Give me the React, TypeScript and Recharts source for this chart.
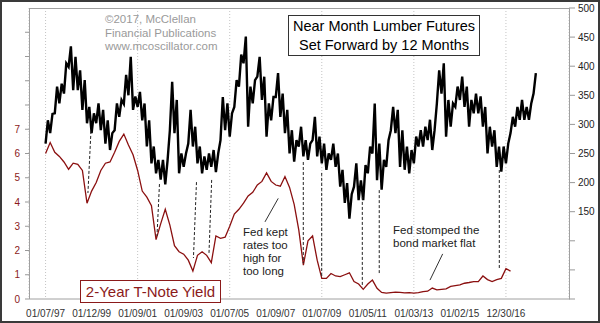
import {
  CartesianGrid,
  ComposedChart,
  Line,
  ReferenceLine,
  XAxis,
  YAxis,
} from "recharts";

// one sample every 50 trading days, starting 01/07/97
const STEP = 50;

const dateTicks = [0, 500, 1000, 1500, 2000, 2500, 3000, 3500, 4000, 4500, 5000];
const dateLabels = [
  "01/07/97",
  "01/12/99",
  "01/09/01",
  "01/09/03",
  "01/07/05",
  "01/09/07",
  "01/07/09",
  "01/05/11",
  "01/03/13",
  "01/02/15",
  "12/30/16",
];

// lumber futures (set forward 12 months), low / high of each sample window
const lumberLow = [
  267, 285, 319, 336, 353, 399, 359, 359, 325, 302,
  285, 302, 290, 267, 256, 290, 313, 335, 350, 325,
  330, 307, 262, 233, 216, 205, 197, 290, 285, 216,
  227, 267, 262, 233, 216, 222, 227, 218, 273, 290,
  279, 330, 365, 405, 296, 336, 382, 342, 279, 307,
  347, 313, 285, 250, 236, 262, 245, 239, 273, 245,
  233, 222, 239, 227, 193, 165, 138, 193, 170, 170,
  216, 250, 204, 188, 227, 290, 285, 227, 222, 216,
  233, 262, 262, 273, 256, 336, 353, 279, 296, 330,
  342, 330, 296, 319, 319, 296, 250, 262, 227, 219,
  233, 285, 296, 308, 308, 308, 353,
];
const lumberHigh = [
  307, 318, 365, 370, 405, 434, 416, 393, 376, 330,
  319, 336, 325, 307, 285, 336, 342, 385, 416, 348,
  356, 336, 307, 262, 239, 239, 238, 373, 342, 250,
  250, 325, 296, 262, 245, 250, 256, 250, 347, 336,
  319, 376, 420, 451, 365, 376, 416, 382, 336, 347,
  388, 353, 325, 290, 273, 296, 273, 267, 313, 279,
  267, 250, 267, 250, 222, 199, 180, 233, 204, 230,
  262, 336, 267, 239, 273, 330, 325, 290, 262, 256,
  279, 290, 296, 308, 290, 393, 405, 342, 336, 365,
  382, 365, 342, 353, 348, 330, 296, 290, 262, 262,
  267, 313, 330, 342, 330, 336, 388,
];

// 2-year T-note yield, %
const noteYield = [
  6.0, 6.45, 6.05, 5.88, 5.65, 5.35, 5.6, 5.55, 5.3, 3.95,
  4.45, 4.8, 5.3, 5.6, 5.65, 6.05, 6.5, 6.8, 6.35, 5.95,
  5.3, 4.45, 4.2, 3.85, 2.45, 3.1, 3.7, 3.05, 2.2, 1.95,
  1.85, 1.6, 1.15, 1.8, 1.95, 1.8, 1.5, 2.6, 2.5, 2.55,
  3.0, 3.5, 3.7, 3.95, 4.25, 4.4, 4.7, 4.85, 5.2, 4.85,
  4.7, 4.65, 5.05, 4.6, 3.9, 2.85, 1.4, 2.4, 2.6, 1.6,
  0.85, 0.85, 1.05, 0.95, 0.92, 1.0, 1.08, 0.72, 0.62, 0.4,
  0.62, 0.78, 0.44, 0.27, 0.24, 0.26, 0.28, 0.27, 0.25, 0.26,
  0.24, 0.26, 0.3, 0.32, 0.45, 0.38, 0.4, 0.42, 0.52, 0.55,
  0.58, 0.65, 0.68, 0.72, 0.72, 0.95, 0.8, 0.72, 0.8, 0.85,
  1.25, 1.15,
];

// dashed connectors: lumber low -> yield low, in (trading day, yield) units
const connectors = [
  [493, 6.93, 460, 4.37],
  [1237, 4.74, 1210, 2.6],
  [1639, 4.82, 1606, 1.69],
  [1804, 4.91, 1775, 1.9],
  [2799, 5.65, 2799, 1.48],
  [2999, 5.2, 2999, 0.91],
  [3440, 4.21, 3440, 0.49],
  [3624, 4.49, 3624, 1.07],
  [4928, 5.32, 4928, 1.2],
];

// pointer lines from the two notes
const pointers = [
  [2383, 3.18, 2527, 4.15],
  [4313, 1.86, 4175, 0.78],
];

const leftTicks = [0, 1, 2, 3, 4, 5, 6, 7, 8, 9, 10, 11];
const rightTicks = [0, 50, 100, 150, 200, 250, 300, 350, 400, 450, 500];

// the lumber trace swings low -> high inside every window, like the daily data
const data = lumberLow.flatMap((lo, i) => [
  { t: i * STEP, lumber: lo, yld: i < noteYield.length ? noteYield[i] : null },
  { t: i * STEP + STEP / 2, lumber: lumberHigh[i], yld: null },
]);

const FONT = "'Liberation Sans', Arial, sans-serif";
const RED = "#8b1010";

export default function App() {
  return (
    <div
      style={{
        position: "absolute",
        left: 0,
        top: 0,
        width: 600,
        height: 323,
        background: "#fff",
        fontFamily: FONT,
      }}
    >
      <ComposedChart
        width={600}
        height={323}
        data={data}
        margin={{ top: 8, right: 0, bottom: 0, left: 0 }}
      >
        <CartesianGrid
          horizontal={false}
          stroke="#c4c4c4"
          strokeDasharray="1 2"
        />
        <XAxis
          type="number"
          dataKey="t"
          domain={[-180, 5685]}
          ticks={dateTicks}
          tickFormatter={(v) => dateLabels[dateTicks.indexOf(v)] ?? ""}
          height={24}
          tickLine={false}
          tickSize={6}
          tickMargin={5}
          axisLine={false}
          tick={{ fill: "#333", fontSize: 10, fontFamily: FONT }}
        />
        <YAxis
          yAxisId="left"
          orientation="left"
          domain={[0, 12]}
          ticks={leftTicks}
          interval={0}
          width={29}
          tickFormatter={(v) => (v <= 7 ? String(v) : "")}
          axisLine={false}
          tickLine={{ stroke: "#999" }}
          tickSize={4}
          tickMargin={5}
          tick={{ fill: "#8b1a1a", fontSize: 10, fontFamily: FONT }}
        />
        <YAxis
          yAxisId="right"
          orientation="right"
          domain={[0, 500]}
          ticks={rightTicks}
          interval={0}
          width={31}
          tickFormatter={(v) => (v >= 150 ? String(v) : "")}
          axisLine={false}
          tickLine={{ stroke: "#999" }}
          tickSize={6}
          tickMargin={3}
          tick={{ fill: "#222", fontSize: 10, fontFamily: FONT }}
        />
        <Line
          yAxisId="right"
          dataKey="lumber"
          stroke="#000"
          strokeWidth={2.4}
          strokeLinejoin="miter"
          dot={false}
          activeDot={false}
          isAnimationActive={false}
        />
        <Line
          yAxisId="left"
          dataKey="yld"
          stroke={RED}
          strokeWidth={1.3}
          connectNulls
          dot={false}
          activeDot={false}
          isAnimationActive={false}
        />
        {connectors.map((c, i) => (
          <ReferenceLine
            key={"c" + i}
            yAxisId="left"
            segment={[
              { x: c[0], y: c[1] },
              { x: c[2], y: c[3] },
            ]}
            stroke="#222"
            strokeDasharray="3 2"
            strokeWidth={1}
            ifOverflow="visible"
          />
        ))}
        {pointers.map((c, i) => (
          <ReferenceLine
            key={"p" + i}
            yAxisId="left"
            segment={[
              { x: c[0], y: c[1] },
              { x: c[2], y: c[3] },
            ]}
            stroke="#333"
            strokeWidth={1}
            ifOverflow="visible"
          />
        ))}
      </ComposedChart>
      <svg
        width={600}
        height={323}
        style={{ position: "absolute", left: 0, top: 0, pointerEvents: "none" }}
        fontFamily={FONT}
      >
        <rect x={29.5} y={8.5} width={540} height={290.5} fill="none" stroke="#a0a0a0" />
        <g fill="#9a9a9a" fontSize={11.5}>
          <text x={105} y={23}>©2017, McClellan</text>
          <text x={105} y={36.5}>Financial Publications</text>
          <text x={105} y={50}>www.mcoscillator.com</text>
        </g>
        <rect x={288.5} y={15.5} width={191} height={40} fill="#fff" stroke="#333" />
        <g fill="#000" fontSize={14.5} textAnchor="middle">
          <text x={384} y={31}>Near Month Lumber Futures</text>
          <text x={384} y={50}>Set Forward by 12 Months</text>
        </g>
        <rect x={80.5} y={280.5} width={140} height={22} fill="#fff" stroke="#8b1a1a" />
        <text x={150.5} y={297} fill="#8b1a1a" fontSize={15} textAnchor="middle">
          2-Year T-Note Yield
        </text>
        <g fill="#222" fontSize={11.5}>
          <text x={243} y={236}>Fed kept</text>
          <text x={243} y={249}>rates too</text>
          <text x={243} y={262}>high for</text>
          <text x={243} y={275}>too long</text>
          <text x={393} y={234}>Fed stomped the</text>
          <text x={393} y={247}>bond market flat</text>
        </g>
      </svg>
      <div
        style={{
          position: "absolute",
          left: 0,
          top: 0,
          width: 600,
          height: 323,
          boxSizing: "border-box",
          border: "2px solid #3a3a3a",
          pointerEvents: "none",
        }}
      />
    </div>
  );
}
